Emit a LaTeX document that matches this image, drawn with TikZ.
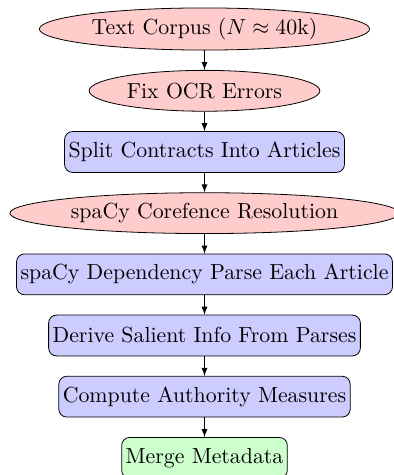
\documentclass[tikz,border=0pt]{standalone}
\usetikzlibrary{positioning,shapes.geometric,arrows}

\tikzset{
  base/.style={draw, inner sep=2pt, minimum height=20.5pt,
    font=\fontsize{10.95pt}{13.6pt}\selectfont},
  cloud/.style={base, ellipse, fill=red!20},
  block/.style={base, rectangle, fill=blue!20, rounded corners, text centered},
  final/.style={base, rectangle, fill=green!20, rounded corners, text centered},
  line/.style={draw, -latex},
}

\begin{document}
\begin{tikzpicture}[x=0.5bp, y=-0.5bp, node distance=9.8pt]
  \useasboundingbox (0,0) rectangle (394,475);

  \node[cloud] (corpus) at (204.5,29) {Text Corpus ($N \approx 40$k)};
  \node[cloud, below=of corpus] (ocr) {Fix OCR Errors};
  \node[block, below=of ocr] (split) {Split Contracts Into Articles};
  \node[cloud, below=of split] (coref) {spaCy Corefence Resolution};
  \node[block, below=of coref] (dep) {spaCy Dependency Parse Each Article};
  \node[block, below=of dep] (derive) {Derive Salient Info From Parses};
  \node[block, below=of derive] (auth) {Compute Authority Measures};
  \node[final, below=of auth] (merge) {Merge Metadata};

  \path[line] (corpus) -- (ocr);
  \path[line] (ocr) -- (split);
  \path[line] (split) -- (coref);
  \path[line] (coref) -- (dep);
  \path[line] (dep) -- (derive);
  \path[line] (derive) -- (auth);
  \path[line] (auth) -- (merge);
\end{tikzpicture}
\end{document}
